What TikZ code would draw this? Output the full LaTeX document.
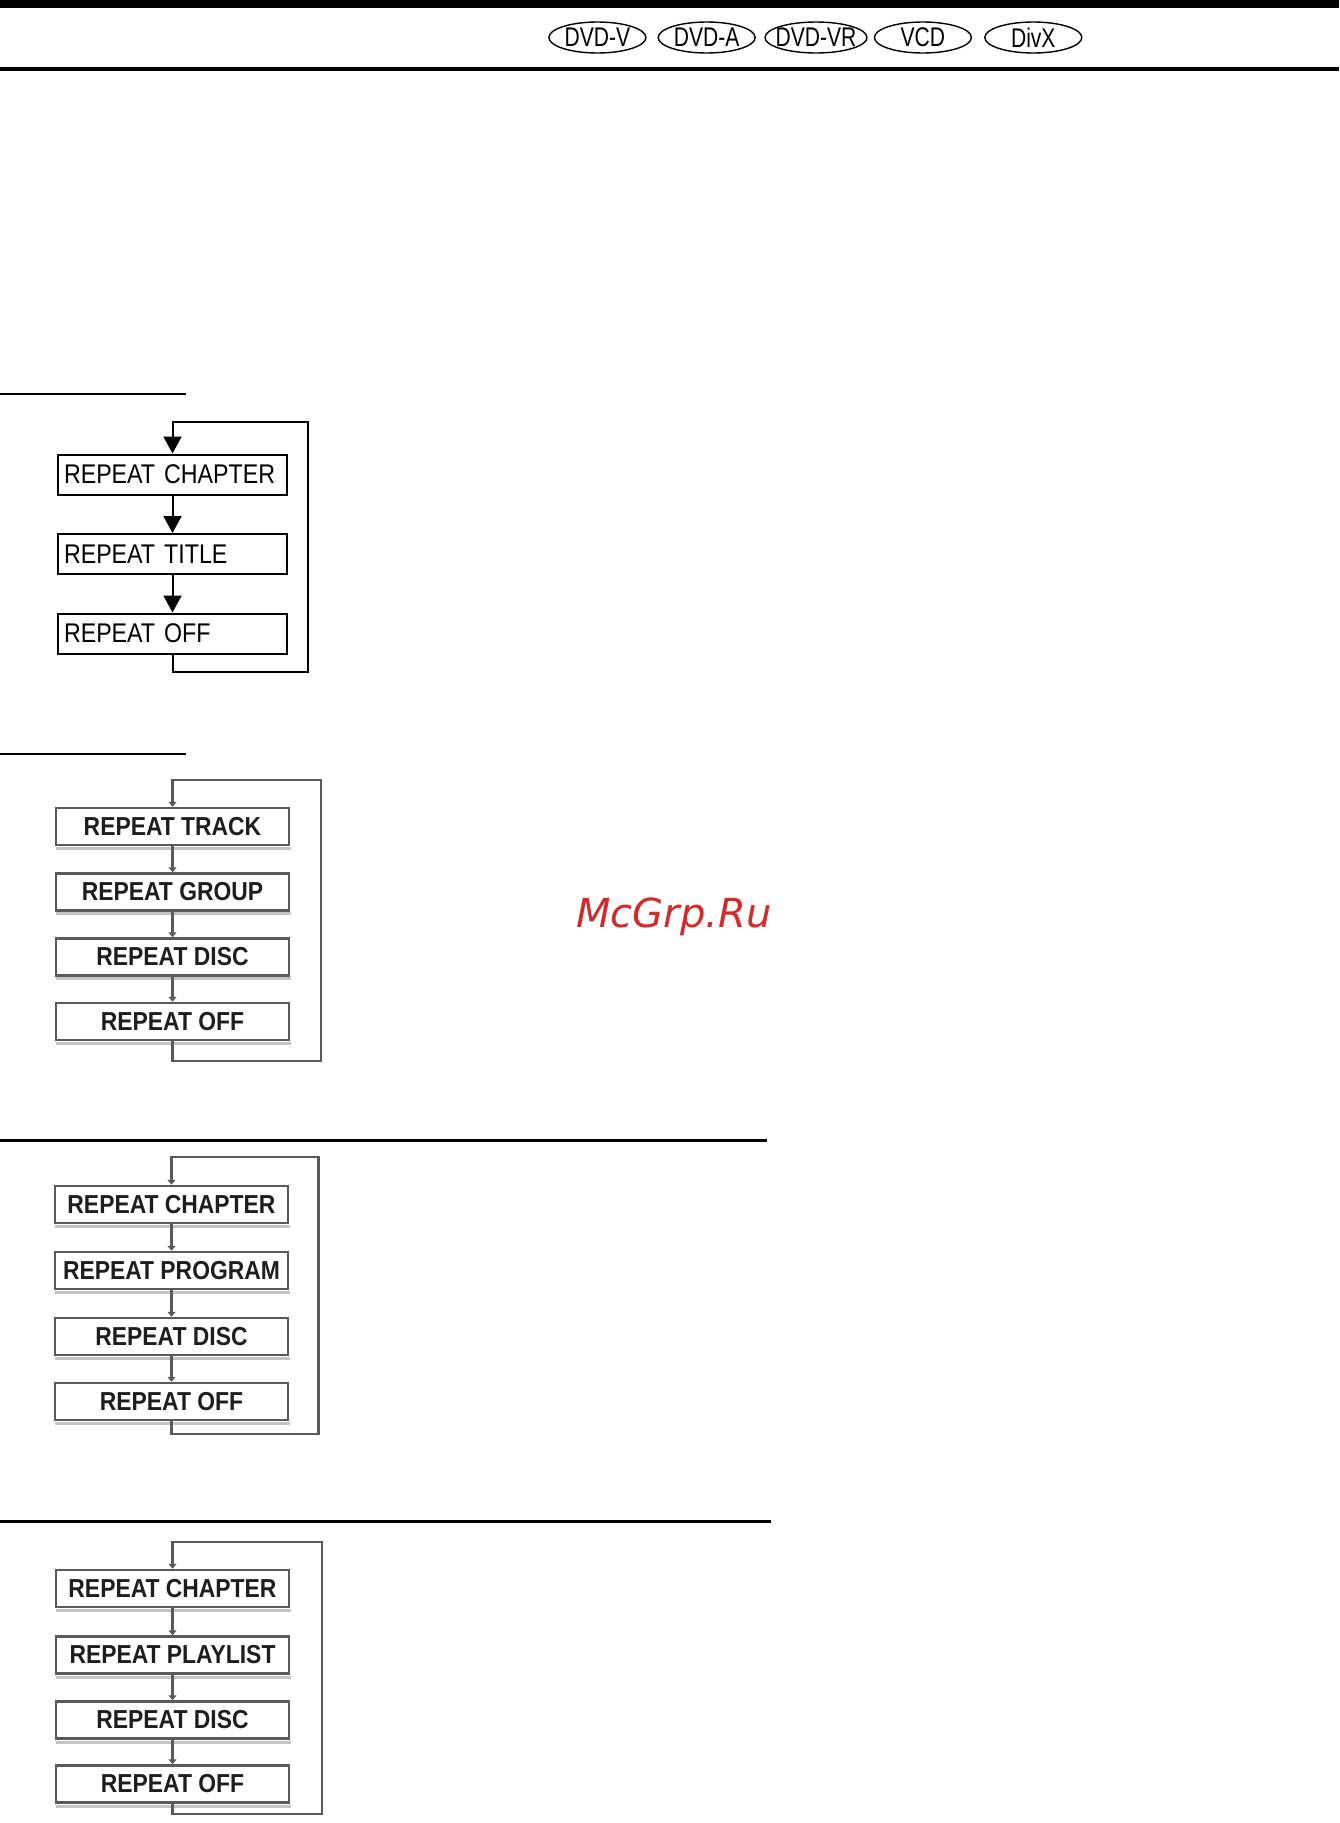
\documentclass[tikz,border=0pt]{standalone}
\usepackage{fontspec}
\usetikzlibrary{arrows.meta,shapes.geometric,calc}
\setmainfont{Liberation Sans}
\newfontfamily\ovalfont[FakeStretch=0.78]{Liberation Sans}
\newfontfamily\diafont[FakeStretch=0.86]{Liberation Sans}
\newfontfamily\boxfont[FakeStretch=0.88]{Liberation Sans}
\newfontfamily\wmfont{DejaVu Sans}
\definecolor{fadeline}{HTML}{5A5A5A}
\definecolor{fadetext}{HTML}{1E1E1E}
\definecolor{fadeshadow}{HTML}{C4C4C4}
\definecolor{wmred}{HTML}{D42A2A}
\tikzset{
  hdr/.style={ellipse, draw, line width=1.4pt, minimum width=97pt, minimum height=31pt, inner xsep=-20pt, inner ysep=-8pt, font={\ovalfont\fontsize{27pt}{30pt}\selectfont}},
  boxa/.style={draw, line width=2pt, minimum height=40pt, text width=217pt, align=left, inner xsep=6pt, inner ysep=0pt, font={\diafont\fontsize{27pt}{30pt}\selectfont}},
  lna/.style={line width=2pt},
  tipa/.style={-{Triangle[width=18pt,length=17pt]}},
  boxb/.style={draw=fadeline, line width=2.5pt, minimum width=233pt, minimum height=37pt, inner sep=0pt, text=fadetext, font={\boxfont\bfseries\fontsize{26pt}{29pt}\selectfont}},
  lnb/.style={draw=fadeline, line width=2.5pt},
  tipb/.style={-{Triangle[width=8pt,length=5pt]}},
  shad/.style={draw=fadeshadow, line width=3pt},
  rulethin/.style={line width=2pt},
  rulethick/.style={line width=3pt}
}
\begin{document}
\begin{tikzpicture}[x=1pt,y=-1pt]
\useasboundingbox (0,0) rectangle (1339,1823);
\fill[white] (0,0) rectangle (1339,1823);
% header
\fill[black] (0,0) rectangle (1339,8);
\fill[black] (0,67) rectangle (1339,71);
\node[hdr] (o1) at (597.4,37.5) {DVD-V};
\node[hdr] (o2) at (706.7,37.5) {DVD-A};
\node[hdr, minimum width=102pt] (o3) at (816,37.5) {DVD-VR};
\node[hdr] (o4) at (922.9,37.5) {VCD};
\node[hdr] (o5) at (1033.3,37.5) {DivX};
% section rules
\draw[rulethin] (0,394) -- (186,394);
\draw[rulethin] (0,754) -- (186,754);
\draw[rulethick] (0,1140.5) -- (767,1140.5);
\draw[rulethick] (0,1521) -- (771,1521);
% diagram 1
\node[boxa] (a1) at (172.5,474.5) {REPEAT CHAPTER};
\node[boxa] (a2) at (172.5,554) {REPEAT TITLE};
\node[boxa] (a3) at (172.5,633.5) {REPEAT OFF};
\coordinate (a-br) at (308,672);
\coordinate (a-tr) at (308,422);
\draw[lna,tipa] (a1.south) -- (a2.north);
\draw[lna,tipa] (a2.south) -- (a3.north);
\draw[lna,tipa] (a3.south) |- (a-br) -- (a-tr) -| (a1.north);
% diagram 2
\draw[shad] (56,848) -- (291,848);
\draw[shad] (56,913) -- (291,913);
\draw[shad] (56,978) -- (291,978);
\draw[shad] (56,1043) -- (291,1043);
\node[boxb] (b1) at (172.5,826.5) {REPEAT TRACK};
\node[boxb] (b2) at (172.5,892) {REPEAT GROUP};
\node[boxb] (b3) at (172.5,957) {REPEAT DISC};
\node[boxb] (b4) at (172.5,1021.5) {REPEAT OFF};
\coordinate (b-br) at (321,1061);
\coordinate (b-tr) at (321,780);
\draw[lnb,tipb] (b1.south) -- (b2.north);
\draw[lnb,tipb] (b2.south) -- (b3.north);
\draw[lnb,tipb] (b3.south) -- (b4.north);
\draw[lnb,tipb] (b4.south) |- (b-br) -- (b-tr) -| (b1.north);
% diagram 3
\draw[shad] (55,1226) -- (290,1226);
\draw[shad] (55,1292) -- (290,1292);
\draw[shad] (55,1358) -- (290,1358);
\draw[shad] (55,1423) -- (290,1423);
\node[boxb] (c1) at (171.5,1204.5) {REPEAT CHAPTER};
\node[boxb] (c2) at (171.5,1270.5) {REPEAT PROGRAM};
\node[boxb] (c3) at (171.5,1336.5) {REPEAT DISC};
\node[boxb] (c4) at (171.5,1401.5) {REPEAT OFF};
\coordinate (c-br) at (318.5,1434);
\coordinate (c-tr) at (318.5,1157);
\draw[lnb,tipb] (c1.south) -- (c2.north);
\draw[lnb,tipb] (c2.south) -- (c3.north);
\draw[lnb,tipb] (c3.south) -- (c4.north);
\draw[lnb,tipb] (c4.south) |- (c-br) -- (c-tr) -| (c1.north);
% diagram 4
\draw[shad] (56,1610) -- (291,1610);
\draw[shad] (56,1677) -- (291,1677);
\draw[shad] (56,1742) -- (291,1742);
\draw[shad] (56,1806) -- (291,1806);
\node[boxb] (d1) at (172.5,1588.5) {REPEAT CHAPTER};
\node[boxb] (d2) at (172.5,1655) {REPEAT PLAYLIST};
\node[boxb] (d3) at (172.5,1720) {REPEAT DISC};
\node[boxb] (d4) at (172.5,1784) {REPEAT OFF};
\coordinate (d-br) at (322,1814);
\coordinate (d-tr) at (322,1542);
\draw[lnb,tipb] (d1.south) -- (d2.north);
\draw[lnb,tipb] (d2.south) -- (d3.north);
\draw[lnb,tipb] (d3.south) -- (d4.north);
\draw[lnb,tipb] (d4.south) |- (d-br) -- (d-tr) -| (d1.north);
% watermark
\node[text=wmred, font={\wmfont\itshape\fontsize{40pt}{44pt}\selectfont}, anchor=base west, inner sep=0pt] (wm) at (576,927) {McGrp.Ru};
\end{tikzpicture}
\end{document}
